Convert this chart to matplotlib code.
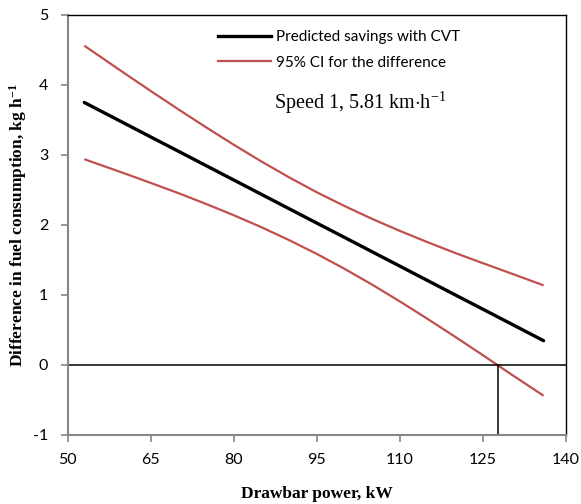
import matplotlib
matplotlib.use("Agg")
import matplotlib.pyplot as plt
from matplotlib.lines import Line2D

plt.rcParams["axes.unicode_minus"] = False
plt.rcParams["mathtext.fontset"] = "custom"
plt.rcParams["mathtext.rm"] = "Liberation Serif"
plt.rcParams["mathtext.it"] = "Liberation Serif:italic"
plt.rcParams["mathtext.bf"] = "Liberation Serif:bold"

# Data
power_kw = [53, 60, 65, 70, 75, 80, 85, 90, 95, 100, 105, 110, 115, 120, 125, 130, 136]
predicted = [3.745, 3.458, 3.253, 3.049, 2.844, 2.639, 2.434, 2.229, 2.024, 1.820,
             1.615, 1.410, 1.205, 1.000, 0.796, 0.591, 0.345]
ci_upper = [4.555, 4.176, 3.909, 3.647, 3.391, 3.142, 2.903, 2.677, 2.464, 2.268,
            2.084, 1.913, 1.752, 1.598, 1.452, 1.309, 1.135]
ci_lower = [2.935, 2.740, 2.597, 2.451, 2.297, 2.136, 1.965, 1.781, 1.584, 1.372,
            1.146, 0.907, 0.658, 0.402, 0.140, -0.127, -0.440]
crossing_kw = 127.8
x_ticks = [50, 65, 80, 95, 110, 125, 140]
y_ticks = [-1, 0, 1, 2, 3, 4, 5]

RED = "#C0504D"
GRAY = "#868686"

fig = plt.figure(figsize=(5.81, 5.04), dpi=100)
ax = fig.add_axes([0.1165, 0.137, 0.8572, 0.8342])

ax.plot(power_kw, ci_upper, color=RED, lw=1.6, solid_capstyle="butt")
ax.plot(power_kw, ci_lower, color=RED, lw=1.6, solid_capstyle="butt")
ax.plot(power_kw, predicted, color="black", lw=2.4, solid_capstyle="round")

ax.axhline(0, color="black", lw=1.1)
ax.plot([crossing_kw, crossing_kw], [-1, 0], color="black", lw=1.1)

ax.set_xlim(50, 140)
ax.set_ylim(-1, 5)
ax.set_xticks(x_ticks)
ax.set_yticks(y_ticks)

for s in ["left", "bottom"]:
    ax.spines[s].set_color(GRAY)
    ax.spines[s].set_linewidth(1.5)
for s in ["top", "right"]:
    ax.spines[s].set_color("black")
    ax.spines[s].set_linewidth(1.0)
ax.tick_params(axis="both", direction="out", length=5, width=1.2, color=GRAY,
               labelsize=11.5)
ax.tick_params(axis="x", pad=8)
ax.tick_params(axis="y", pad=9)
for lab in ax.get_xticklabels() + ax.get_yticklabels():
    lab.set_family("Lato")

ax.set_xlabel("Drawbar power, kW", family="Liberation Serif", fontweight="bold",
              fontsize=12.5, labelpad=14)
ax.set_ylabel("Difference in fuel consumption, kg h$^{\\mathbf{-1}}$",
              family="Liberation Serif", fontweight="bold", fontsize=12.5, labelpad=3)

handles = [Line2D([], [], color="black", lw=2.4),
           Line2D([], [], color=RED, lw=1.6)]
labels = ["Predicted savings with CVT", "95% CI for the difference"]
ax.legend(handles, labels, loc="upper left", bbox_to_anchor=(0.274, 0.995),
          frameon=False, handlelength=3.5, handletextpad=0.3,
          labelspacing=0.75, prop={"family": "Lato", "size": 11})

ax.text(0.414, 0.79, "Speed 1, 5.81 km$\\cdot$h$^{\\mathrm{-1}}$", transform=ax.transAxes,
        family="Liberation Serif", fontsize=14.5, va="center", ha="left")

fig.savefig("out.png", dpi=100)
